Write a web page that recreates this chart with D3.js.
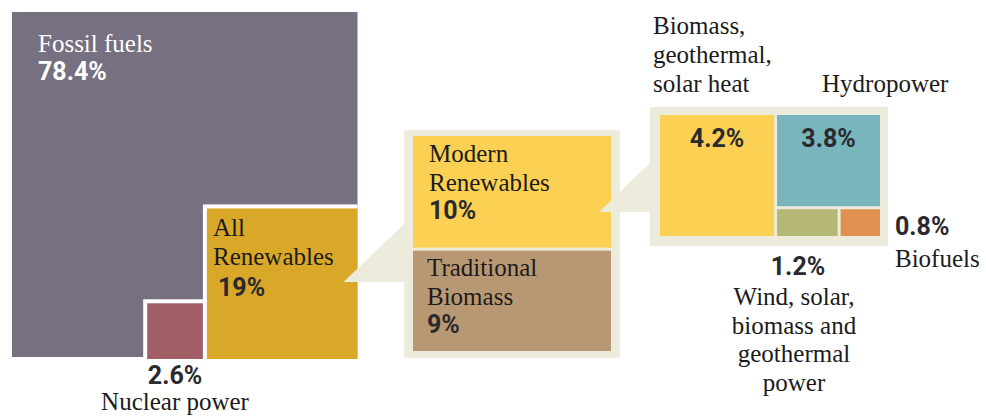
<!DOCTYPE html>
<html>
<head>
<meta charset="utf-8">
<script src="https://cdn.jsdelivr.net/npm/d3@7/dist/d3.min.js"></script>
<style>
  html, body { margin: 0; padding: 0; background: #fff; }
  svg { display: block; }
  .lbl { font-family: "Liberation Serif", "Times New Roman", serif; font-size: 25px; fill: #1b1b1b; }
  .num { font-family: Roboto, "Open Sans", sans-serif; font-weight: 700; font-size: 25px; fill: #2a2a2e; }
</style>
</head>
<body>
<svg id="chart" width="986" height="417"></svg>
<script>
// World energy consumption shares (%)
const energyNames  = ["Fossil fuels", "All Renewables", "Nuclear power"];
const energyValues = [78.4, 19, 2.6];

const renewNames  = ["Modern Renewables", "Traditional Biomass"];
const renewValues = [10, 9];

const modernNames  = ["Biomass, geothermal, solar heat", "Hydropower", "Wind, solar, biomass and geothermal power", "Biofuels"];
const modernValues = [4.2, 3.8, 1.2, 0.8];

const colors = {
  fossil: "#767080", renew: "#daa829", nuclear: "#a15e66",
  panel: "#ecebdc", modern: "#fcd052", traditional: "#b89873",
  heat: "#fcd052", hydro: "#79b5bc", wind: "#b4b874", biofuels: "#e0914f"
};

const svg = d3.select("#chart");
const fmt = v => d3.format("")(v) + "%";

// ---- Overall square: area proportional to share ----
const side = d3.scaleSqrt().domain([0, 100]).range([0, 345.5]);
const ox = 12, oy = 12, bottom = 359, gap = 4;
const fullSide = side(d3.sum(energyValues));
const right = ox + fullSide;

const sRenew = side(energyValues[1]);
const sNuc = side(energyValues[2]);
const renew = { x: right - sRenew, y: bottom - sRenew, w: sRenew, h: sRenew };
const nuc = { x: renew.x - gap - sNuc, y: bottom - sNuc, w: sNuc, h: sNuc };

svg.append("rect").attr("x", ox).attr("y", oy).attr("width", fullSide).attr("height", fullSide - 0.5)
  .attr("fill", colors.fossil);

[renew, nuc].forEach(r => {
  svg.append("rect").attr("x", r.x - gap).attr("y", r.y - gap)
    .attr("width", r.w + gap).attr("height", r.h + gap).attr("fill", "#fff");
});
svg.append("rect").attr("x", renew.x).attr("y", renew.y).attr("width", renew.w).attr("height", renew.h)
  .attr("fill", colors.renew);
svg.append("rect").attr("x", nuc.x).attr("y", nuc.y).attr("width", nuc.w).attr("height", nuc.h)
  .attr("fill", colors.nuclear);

// ---- Renewables breakdown panel ----
const p1 = { x: 404, y: 130, w: 216, h: 228, pad: 9, padTop: 6, padBottom: 7 };
svg.append("rect").attr("x", p1.x).attr("y", p1.y).attr("width", p1.w).attr("height", p1.h)
  .attr("fill", colors.panel);

// callout wedge from All Renewables
const w1tip = [renew.x + renew.w - 14, 282];
svg.append("polygon")
  .attr("points", [w1tip, [p1.x, 224], [p1.x, w1tip[1]]].map(p => p.join(",")).join(" "))
  .attr("fill", colors.panel);

const inner1 = { x0: p1.x + p1.pad, x1: p1.x + p1.w - p1.pad, y0: p1.y + p1.padTop, y1: p1.y + p1.h - p1.padBottom };
const y1 = d3.scaleLinear().domain([0, d3.sum(renewValues)]).range([inner1.y0, inner1.y1]);
const cut1 = y1(renewValues[0]);
const renewRects = [
  { name: renewNames[0], y0: inner1.y0, y1: cut1 - 1.5, fill: colors.modern },
  { name: renewNames[1], y0: cut1 + 1.5, y1: inner1.y1, fill: colors.traditional }
];
svg.selectAll("rect.renew").data(renewRects).join("rect").attr("class", "renew")
  .attr("x", inner1.x0).attr("y", d => d.y0)
  .attr("width", inner1.x1 - inner1.x0).attr("height", d => d.y1 - d.y0)
  .attr("fill", d => d.fill);

// ---- Modern renewables breakdown panel ----
const p2 = { x: 650, y: 107, w: 238, h: 139 };
svg.append("rect").attr("x", p2.x).attr("y", p2.y).attr("width", p2.w).attr("height", p2.h)
  .attr("fill", colors.panel);

const w2tip = [inner1.x1 - 12, 212];
svg.append("polygon")
  .attr("points", [w2tip, [p2.x, 163], [p2.x, w2tip[1]]].map(p => p.join(",")).join(" "))
  .attr("fill", colors.panel);

const inner2 = { x0: 660, x1: 880, y0: 115, y1: 236 };
const g = 3;
const xTop = d3.scaleLinear().domain([0, modernValues[0] + modernValues[1]]).range([inner2.x0, inner2.x1 + g]);
const xCut = xTop(modernValues[0]);
const yRight = d3.scaleLinear().domain([0, modernValues[1] + modernValues[2]]).range([inner2.y0, inner2.y1 + g]);
const yCut = yRight(modernValues[1]);
const xBottom = d3.scaleLinear().domain([0, modernValues[2] + modernValues[3]]).range([xCut, inner2.x1 + g]);
const xCut2 = xBottom(modernValues[2]);

const modernRects = [
  { x0: inner2.x0, x1: xCut - g, y0: inner2.y0, y1: inner2.y1, fill: colors.heat },
  { x0: xCut, x1: inner2.x1, y0: inner2.y0, y1: yCut - g, fill: colors.hydro },
  { x0: xCut, x1: xCut2 - g, y0: yCut, y1: inner2.y1, fill: colors.wind },
  { x0: xCut2, x1: inner2.x1, y0: yCut, y1: inner2.y1, fill: colors.biofuels }
];
svg.selectAll("rect.modern").data(modernRects).join("rect").attr("class", "modern")
  .attr("x", d => d.x0).attr("y", d => d.y0)
  .attr("width", d => d.x1 - d.x0).attr("height", d => d.y1 - d.y0)
  .attr("fill", d => d.fill);

// ---- Labels ----
function label(x, y, lines, cls, anchor, fill) {
  const t = svg.append("text").attr("class", cls).attr("x", x).attr("y", y)
    .attr("text-anchor", anchor || "start");
  if (fill) t.style("fill", fill);
  lines.forEach((l, i) => t.append("tspan").attr("x", x).attr("dy", i === 0 ? 0 : 29).text(l));
  return t;
}

// Fossil fuels
label(38, 52, ["Fossil fuels"], "lbl", "start", "#ffffff");
label(38, 80, [fmt(energyValues[0])], "num", "start", "#ffffff");

// All renewables
label(213, 236, ["All", "Renewables"], "lbl");
label(218, 296, [fmt(energyValues[1])], "num");

// Nuclear
const nucCx = nuc.x + nuc.w / 2;
label(nucCx, 384, [fmt(energyValues[2])], "num", "middle");
label(nucCx, 410, [energyNames[2]], "lbl", "middle");

// Modern / traditional
label(429, 162, ["Modern", "Renewables"], "lbl");
label(429, 219, [fmt(renewValues[0])], "num");
label(427, 276, ["Traditional", "Biomass"], "lbl");
label(427, 333, [fmt(renewValues[1])], "num");

// Modern breakdown
label(653, 34, ["Biomass,", "geothermal,", "solar heat"], "lbl");
label(822, 92, [modernNames[1]], "lbl");
label((modernRects[0].x0 + modernRects[0].x1) / 2, 147, [fmt(modernValues[0])], "num", "middle");
label((modernRects[1].x0 + modernRects[1].x1) / 2, 147, [fmt(modernValues[1])], "num", "middle");
label(895, 235, [fmt(modernValues[3])], "num");
label(895, 267, [modernNames[3]], "lbl");
label(798, 275, [fmt(modernValues[2])], "num", "middle");
const windLabel = svg.append("text").attr("class", "lbl").attr("text-anchor", "middle").attr("y", 305);
["Wind, solar,", "biomass and", "geothermal", "power"].forEach((l, i) =>
  windLabel.append("tspan").attr("x", 794).attr("dy", i === 0 ? 0 : 28.5).text(l));
</script>
</body>
</html>
